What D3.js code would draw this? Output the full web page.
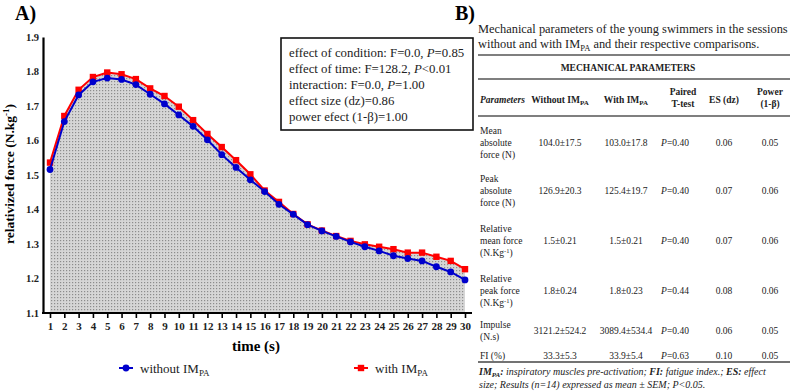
<!DOCTYPE html>
<html>
<head>
<meta charset="utf-8">
<script src="https://cdn.jsdelivr.net/npm/d3@7"></script>
<style>
  body { margin: 0; background: #fff; }
  svg { display: block; font-family: "Liberation Serif", "Times New Roman", serif; }
</style>
</head>
<body>
<div id="chart"></div>
<script>
// chart data
const seconds = [1,2,3,4,5,6,7,8,9,10,11,12,13,14,15,16,17,18,19,20,21,22,23,24,25,26,27,28,29,30];
const withoutIM = [1.516,1.655,1.732,1.770,1.781,1.777,1.762,1.734,1.706,1.674,1.641,1.602,1.559,1.522,1.486,
                   1.452,1.415,1.386,1.356,1.338,1.322,1.306,1.292,1.280,1.266,1.258,1.251,1.234,1.219,1.196];
const withIM = [1.536,1.671,1.747,1.784,1.797,1.792,1.778,1.751,1.729,1.698,1.659,1.619,1.581,1.543,1.502,
                1.455,1.422,1.387,1.357,1.339,1.323,1.309,1.299,1.292,1.285,1.275,1.275,1.263,1.251,1.227];
const yTicks = [1.1,1.2,1.3,1.4,1.5,1.6,1.7,1.8,1.9];

// anova box: [label, italic P part, rest]
const statLines = [
    ["effect of condition: F=0.0, ", "P", "=0.85"],
    ["effect of time: F=128.2, ", "P", "<0.01"],
    ["interaction: F=0.0, ", "P", "=1.00"],
    ["effect size (dz)=0.86", "", ""],
    ["power efect (1-\u03b2)=1.00", "", ""]
];

// table data
const paramLabels = [
    ["Mean", "absolute", "force (N)"],
    ["Peak", "absolute", "force (N)"],
    ["Relative", "mean force", "(N.Kg|-1|)"],
    ["Relative", "peak force", "(N.Kg|-1|)"],
    ["Impulse", "(N.s)"],
    ["FI (%)"]
];
const withoutVals = ["104.0\u00b117.5", "126.9\u00b120.3", "1.5\u00b10.21", "1.8\u00b10.24", "3121.2\u00b1524.2", "33.3\u00b15.3"];
const withVals = ["103.0\u00b117.8", "125.4\u00b119.7", "1.5\u00b10.21", "1.8\u00b10.23", "3089.4\u00b1534.4", "33.9\u00b15.4"];
const pVals = ["=0.40", "=0.40", "=0.40", "=0.44", "=0.40", "=0.63"];
const esVals = ["0.06", "0.07", "0.07", "0.08", "0.06", "0.10"];
const powerVals = ["0.05", "0.06", "0.06", "0.06", "0.05", "0.05"];

function init() {
    const svg = d3.select("#chart").append("svg")
        .attr("width", 792)
        .attr("height", 392);

    // ---------- panel A ----------
    const x = d3.scaleLinear().domain([1, 30]).range([50, 465]);
    const y = d3.scaleLinear().domain([1.1, 1.9]).range([313, 37]);

    // dotted fill pattern
    const pat = svg.append("defs").append("pattern")
        .attr("id", "dots")
        .attr("patternUnits", "userSpaceOnUse")
        .attr("width", 3).attr("height", 3);
    pat.append("rect").attr("width", 3).attr("height", 3).attr("fill", "#d6d6d6");
    pat.append("rect").attr("width", 1.2).attr("height", 1.2).attr("fill", "#8c8c8c");

    svg.append("text")
        .attr("x", 15).attr("y", 20)
        .style("font-size", "20px").style("font-weight", "bold")
        .text("A)");

    const area = d3.area()
        .x((d, i) => x(seconds[i]))
        .y0(y(1.1))
        .y1(d => y(d));
    svg.append("path")
        .datum(withIM)
        .attr("d", area)
        .attr("fill", "url(#dots)");

    // y axis
    const yAxis = svg.append("g")
        .attr("transform", "translate(43,0)")
        .call(d3.axisLeft(y).tickValues(yTicks).tickSize(0).tickPadding(4).tickFormat(d3.format(".1f")));
    yAxis.select(".domain").attr("stroke-width", 2.2);
    yAxis.selectAll("text")
        .style("font-family", "Liberation Serif, serif")
        .style("font-size", "10.5px").style("font-weight", "bold").attr("fill", "#222");

    // x axis
    const xAxis = svg.append("g")
        .attr("transform", "translate(0,313)")
        .call(d3.axisBottom(x).tickValues(seconds).tickSize(5).tickSizeOuter(0).tickPadding(4));
    xAxis.select(".domain").remove();
    xAxis.selectAll(".tick line").attr("stroke-width", 1.6);
    xAxis.selectAll("text")
        .style("font-family", "Liberation Serif, serif")
        .style("font-size", "11px").style("font-weight", "bold").attr("fill", "#222");
    svg.append("line")
        .attr("x1", 42).attr("x2", 472).attr("y1", 313).attr("y2", 313)
        .attr("stroke", "#000").attr("stroke-width", 2.2);

    // axis titles
    svg.append("text")
        .attr("transform", "translate(14,174) rotate(-90)")
        .attr("text-anchor", "middle")
        .style("font-size", "13.5px").style("font-weight", "bold")
        .call(t => {
            t.append("tspan").text("relativized force (N.kg");
            t.append("tspan").attr("baseline-shift", "super").style("font-size", "9px").text("-1");
            t.append("tspan").text(")");
        });
    svg.append("text")
        .attr("x", 256).attr("y", 351)
        .attr("text-anchor", "middle")
        .style("font-size", "15px").style("font-weight", "bold")
        .text("time (s)");

    // lines + markers
    const line = d3.line()
        .x((d, i) => x(seconds[i]))
        .y(d => y(d));

    svg.append("path").datum(withIM)
        .attr("d", line).attr("fill", "none")
        .attr("stroke", "#ff0000").attr("stroke-width", 2);
    svg.selectAll(".sq").data(withIM).enter().append("rect")
        .attr("x", (d, i) => x(seconds[i]) - 3.2)
        .attr("y", d => y(d) - 3.2)
        .attr("width", 6.4).attr("height", 6.4)
        .attr("fill", "#ff0000");

    svg.append("path").datum(withoutIM)
        .attr("d", line).attr("fill", "none")
        .attr("stroke", "#0000cc").attr("stroke-width", 2);
    svg.selectAll(".dot").data(withoutIM).enter().append("circle")
        .attr("cx", (d, i) => x(seconds[i]))
        .attr("cy", d => y(d))
        .attr("r", 3.4)
        .attr("fill", "#0000cc");

    // stats box
    svg.append("rect")
        .attr("x", 281).attr("y", 38).attr("width", 192).attr("height", 92)
        .attr("fill", "#fff").attr("stroke", "#111").attr("stroke-width", 1.6);
    statLines.forEach((s, i) => {
        const t = svg.append("text")
            .attr("x", 289).attr("y", 57 + i * 16)
            .style("font-size", "12.8px").attr("fill", "#222");
        t.append("tspan").text(s[0]);
        if (s[1]) {
            t.append("tspan").style("font-style", "italic").text(s[1]);
            t.append("tspan").text(s[2]);
        }
    });

    // legend
    const legendItems = [
        { label: "without IM", color: "#0000cc", x: 119, shape: "circle" },
        { label: "with IM", color: "#ff0000", x: 354, shape: "square" }
    ];
    legendItems.forEach(l => {
        const g = svg.append("g").attr("transform", `translate(${l.x},368)`);
        g.append("line").attr("x1", 0).attr("x2", 14)
            .attr("stroke", l.color).attr("stroke-width", 2);
        if (l.shape === "circle") {
            g.append("circle").attr("cx", 7).attr("r", 3.4).attr("fill", l.color);
        } else {
            g.append("rect").attr("x", 3.8).attr("y", -3.2).attr("width", 6.4).attr("height", 6.4).attr("fill", l.color);
        }
        const t = g.append("text").attr("x", 21).attr("y", 4.5)
            .style("font-size", "13px").attr("fill", "#222");
        t.append("tspan").text(l.label);
        t.append("tspan").attr("dy", 3).style("font-size", "9px").text("PA");
    });

    // ---------- panel B ----------
    const left = 478, right = 790;
    svg.append("text")
        .attr("x", 455).attr("y", 20)
        .style("font-size", "20px").style("font-weight", "bold")
        .text("B)");

    svg.append("text").attr("x", left).attr("y", 33)
        .style("font-size", "12.4px").attr("fill", "#222")
        .text("Mechanical parameters of the young swimmers in the sessions");
    const cap2 = svg.append("text").attr("x", left).attr("y", 48)
        .style("font-size", "12.4px").attr("fill", "#222");
    cap2.append("tspan").text("without and with IM");
    cap2.append("tspan").attr("dy", 2.5).style("font-size", "8.5px").text("PA");
    cap2.append("tspan").attr("dy", -2.5).text(" and their respective comparisons.");

    [55, 79, 116].forEach(yy => {
        svg.append("line").attr("x1", left).attr("x2", right).attr("y1", yy).attr("y2", yy)
            .attr("stroke", "#555").attr("stroke-width", 1.3);
    });
    svg.append("line").attr("x1", left).attr("x2", right).attr("y1", 362).attr("y2", 362)
        .attr("stroke", "#444").attr("stroke-width", 1.6);

    svg.append("text")
        .attr("x", 628).attr("y", 71)
        .attr("text-anchor", "middle")
        .style("font-size", "9.5px").style("font-weight", "bold").attr("fill", "#222")
        .text("MECHANICAL PARAMETERS");

    // column centres
    const colX = [480, 560, 626, 675, 724, 770];
    const hdrX = [480, 560, 626, 683, 724, 770];
    const hdrStyle = t => t.style("font-size", "9.5px").style("font-weight", "bold").attr("fill", "#222");

    svg.append("text").attr("x", hdrX[0]).attr("y", 103)
        .style("font-style", "italic").call(hdrStyle).text("Parameters");
    [["Without IM", 1], ["With IM", 2]].forEach(([lab, c]) => {
        const t = svg.append("text").attr("x", hdrX[c]).attr("y", 103)
            .attr("text-anchor", "middle").call(hdrStyle);
        t.append("tspan").text(lab);
        t.append("tspan").attr("dy", 2).style("font-size", "7px").text("PA");
    });
    [[["Paired", "T-test"], 3], [["ES (dz)"], 4], [["Power", "(1-\u03b2)"], 5]].forEach(([lines, c]) => {
        lines.forEach((ln, j) => {
            svg.append("text")
                .attr("x", hdrX[c])
                .attr("y", lines.length === 1 ? 103 : 95 + j * 11.5)
                .attr("text-anchor", "middle").call(hdrStyle).text(ln);
        });
    });

    // body rows (value line centres)
    const rowY = [143, 191, 241, 291, 331, 356];
    const bodyStyle = t => t.style("font-size", "9.5px").attr("fill", "#222");
    paramLabels.forEach((lines, r) => {
        const y0 = rowY[r] - (lines.length - 1) * 12 / 2;
        lines.forEach((ln, j) => {
            const t = svg.append("text").attr("x", colX[0]).attr("y", y0 + j * 12 + 3.3).call(bodyStyle);
            const parts = ln.split("|");
            t.append("tspan").text(parts[0]);
            if (parts.length > 1) {
                t.append("tspan").attr("dy", -3).style("font-size", "6.5px").text(parts[1]);
                t.append("tspan").attr("dy", 3).text(parts[2]);
            }
        });
        const vy = rowY[r] + 3.3;
        svg.append("text").attr("x", colX[1]).attr("y", vy).attr("text-anchor", "middle").call(bodyStyle).text(withoutVals[r]);
        svg.append("text").attr("x", colX[2]).attr("y", vy).attr("text-anchor", "middle").call(bodyStyle).text(withVals[r]);
        const pt = svg.append("text").attr("x", colX[3]).attr("y", vy).attr("text-anchor", "middle").call(bodyStyle);
        pt.append("tspan").style("font-style", "italic").text("P");
        pt.append("tspan").text(pVals[r]);
        svg.append("text").attr("x", colX[4]).attr("y", vy).attr("text-anchor", "middle").call(bodyStyle).text(esVals[r]);
        svg.append("text").attr("x", colX[5]).attr("y", vy).attr("text-anchor", "middle").call(bodyStyle).text(powerVals[r]);
    });

    // footnote
    const fnStyle = t => t.style("font-size", "10px").style("font-style", "italic").attr("fill", "#222");
    const f1 = svg.append("text").attr("x", 479).attr("y", 375).call(fnStyle);
    f1.append("tspan").style("font-weight", "bold").text("IM");
    f1.append("tspan").attr("dy", 2).style("font-weight", "bold").style("font-size", "7px").text("PA");
    f1.append("tspan").attr("dy", -2).style("font-weight", "bold").text(":");
    f1.append("tspan").text(" inspiratory muscles pre-activation; ");
    f1.append("tspan").style("font-weight", "bold").text("FI:");
    f1.append("tspan").text(" fatigue index.; ");
    f1.append("tspan").style("font-weight", "bold").text("ES:");
    f1.append("tspan").text(" effect");
    svg.append("text").attr("x", 479).attr("y", 388).call(fnStyle)
        .text("size; Results (n=14) expressed as mean \u00b1 SEM; P<0.05.");
}

window.onload = init;
</script>
</body>
</html>
